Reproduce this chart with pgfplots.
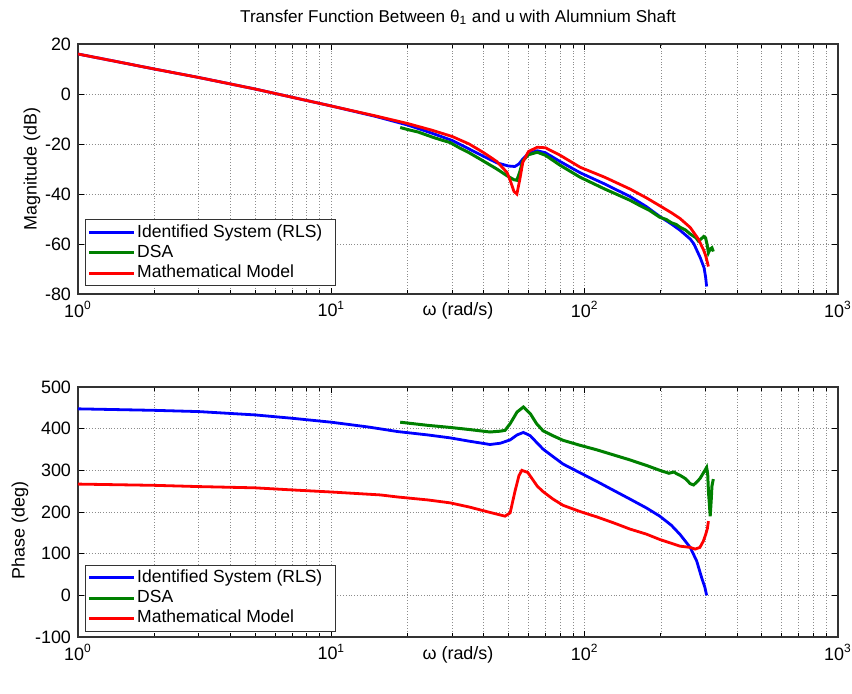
\documentclass[border=0pt]{standalone}
\usepackage{fontspec}
\setmainfont{Liberation Sans}
\usepackage{pgfplots}
\pgfplotsset{compat=1.18}
\definecolor{mblue}{RGB}{0,0,255}
\definecolor{mgreen}{RGB}{0,128,0}
\definecolor{mred}{RGB}{255,0,0}
\pgfplotsset{
  legend image code/.code={\path (0bp,0bp) -- (22.5bp,0bp); \draw[#1] (3bp,0bp) -- (19.5bp,0bp);},
}
\pgfplotstableread{
w m
1 16
1.5 12.5
2 10
3 6.6
5 2
7 -1.3
10 -4.8
15 -9
20 -12.4
25 -15.7
30 -18.6
35 -22
40 -25
45 -27.5
50 -28.8
53 -29
55 -28
57 -26
60 -23.8
65 -22.7
70 -23.5
80 -27
96 -31.5
120 -36
151 -41
175 -45
198 -49
220 -52
238 -54.5
261 -58
270 -60
286 -65.5
296 -69.5
300 -73
303 -77
}\magblue
\pgfplotstableread{
w m
1 16
1.5 12.5
2 10
3 6.6
5 2
7 -1.3
10 -4.8
15 -8.8
20 -11.8
25 -14.5
30 -17
35 -20
40 -23.5
45 -27
49.4 -31.4
51 -35
52.6 -39
54 -40
55.5 -34
57 -27.3
60 -23
65 -21.3
70 -21.5
80 -24.5
96 -29.3
120 -33.3
151 -38
175 -41.5
198 -44.7
220 -47.5
238 -49.8
261 -53.4
281 -58
295 -62.5
300 -64.5
308 -69
}\magred
\pgfplotstableread{
w m
18.7 -13.4
20 -14.2
22 -15.2
25 -17.2
27 -18.3
29.4 -19.4
32 -21.5
35 -23.5
38.6 -26
42 -28.2
45 -30
49.4 -32.7
52.6 -34.3
54 -34.5
55.5 -31
57 -26.7
60 -24.3
65 -23.3
70 -24.5
80 -28.5
96 -33.3
120 -38
151 -42.5
165 -44.6
180 -46.5
198 -49.3
210 -50.2
220 -51.5
230 -52.2
238 -53.3
250 -54.4
261 -56
275 -57.5
281 -58.8
288 -58
295 -57
300 -57.5
304 -60
308 -63.5
313 -62
318 -61.5
322 -63
}\maggreen
\pgfplotstableread{
w p
1 447.6
2 444
3 441
5 433
7 425
10 415.5
14 404
18.3 393
24 385
29.4 378
35 370
42.3 362
46.4 365
50.8 373
54.1 385
57.3 391
61 383
64.6 367
68.5 351
75 333
82.2 315
96 294
112 273
130 252
151 231
175 210
198 190
220 168
238 146
261 115
277 82
290 41
298 20
303 0
}\phblue
\pgfplotstableread{
w p
18.7 415.5
24 408
29.4 403
35 398
42.3 392
46.4 394
48.5 396
50.8 412
54.1 440
57.3 452
61 436
64.6 412
68.5 395
75 383
82.2 372
96 360
112 349
130 337
151 325
175 312
198 300
210 295
215 293
225 296
232 291
238 288
250 280
261 268
269 265
275 270
285 280
295 295
303 307
306 290
308 250
311 215
313 190
316 230
318 262
322 279
}\phgreen
\pgfplotstableread{
w p
1 267
2 264
3 261
5 258
7 253
10 248
15.6 241
18.3 236
24 229
29.4 222
35 212
42.3 199
48.5 190
50.8 198
53.1 250
55 287
56.5 300
59.6 295
62 280
65 262
68.5 249
75 231
82.2 216
96 201
112 188
130 174
151 159
175 147
198 134
238 118
261 115
273 111
285 115
294 130
300 145
305 160
308 178
}\phred
\begin{document}
\begin{tikzpicture}
\useasboundingbox (-39bp,22bp) rectangle (387bp,-325bp);
\begin{axis}[at={(0,0)}, anchor=north west,
  xmode=log, xmin=1, xmax=1000, scale only axis, width=380bp, height=125bp,
  xtick={1,10,100,1000},
  xticklabels={10\textsuperscript{0},10\textsuperscript{1},10\textsuperscript{2},10\textsuperscript{3}},
  grid=both,
  major grid style={densely dotted, black!45, line width=0.4bp},
  minor grid style={densely dotted, black!45, line width=0.4bp},
  tick align=inside, major tick length=3bp, minor tick length=1.8bp,
  tick style={black, line width=0.5bp},
  axis line style={black!80, line width=0.6bp},
  tick label style={font=\fontsize{9}{10}\selectfont},
  label style={font=\fontsize{9}{10}\selectfont},
  title style={font=\fontsize{8.6}{10}\selectfont, at={(axis description cs:0.5,1)}, anchor=base, yshift=5bp},
  xlabel style={at={(axis description cs:0.5,0)}, anchor=north, inner sep=0pt, yshift=-4bp},
  legend style={at={(axis description cs:0,0)}, anchor=south west, xshift=3.3bp, yshift=3.8bp,
    font=\fontsize{8.8}{10}\selectfont, draw=black!80, line width=0.5bp, inner sep=1.2bp,
    row sep=0pt,
    nodes={inner sep=0.85bp, text height=6.5bp, text depth=2bp}},
  legend cell align=left,
  ymin=-80, ymax=20, ytick={-80,-60,-40,-20,0,20},
  yticklabels={-80,-60,-40,-20,0,20},
  ylabel={Magnitude (dB)}, xlabel={ω (rad/s)},
  ylabel style={at={(axis description cs:-0.0605,0.5)}, anchor=center},
  title={Transfer Function Between θ\textsubscript{1} and u with Alumnium Shaft}]
\addplot[mblue, line width=1.4bp] table[x=w,y=m] {\magblue};
\addplot[mgreen, line width=1.5bp] table[x=w,y=m] {\maggreen};
\addplot[mred, line width=1.4bp] table[x=w,y=m] {\magred};
\legend{Identified System (RLS)\hspace*{4.3bp},DSA,Mathematical Model}
\end{axis}
\begin{axis}[at={(0,-171.5bp)}, anchor=north west,
  xmode=log, xmin=1, xmax=1000, scale only axis, width=380bp, height=125bp,
  xtick={1,10,100,1000},
  xticklabels={10\textsuperscript{0},10\textsuperscript{1},10\textsuperscript{2},10\textsuperscript{3}},
  grid=both,
  major grid style={densely dotted, black!45, line width=0.4bp},
  minor grid style={densely dotted, black!45, line width=0.4bp},
  tick align=inside, major tick length=3bp, minor tick length=1.8bp,
  tick style={black, line width=0.5bp},
  axis line style={black!80, line width=0.6bp},
  tick label style={font=\fontsize{9}{10}\selectfont},
  label style={font=\fontsize{9}{10}\selectfont},
  xlabel style={at={(axis description cs:0.5,0)}, anchor=north, inner sep=0pt, yshift=-4.5bp},
  legend style={at={(axis description cs:0,0)}, anchor=south west, xshift=3.3bp, yshift=2.7bp,
    font=\fontsize{8.8}{10}\selectfont, draw=black!80, line width=0.5bp, inner sep=1.2bp,
    row sep=0pt,
    nodes={inner sep=0.85bp, text height=6.5bp, text depth=2bp}},
  legend cell align=left,
  ymin=-100, ymax=500, ytick={-100,0,100,200,300,400,500},
  yticklabels={-100,0,100,200,300,400,500},
  ylabel={Phase (deg)}, xlabel={ω (rad/s)},
  ylabel style={at={(axis description cs:-0.0763,0.426)}, anchor=center}]
\addplot[mblue, line width=1.4bp] table[x=w,y=p] {\phblue};
\addplot[mgreen, line width=1.5bp] table[x=w,y=p] {\phgreen};
\addplot[mred, line width=1.4bp] table[x=w,y=p] {\phred};
\legend{Identified System (RLS)\hspace*{4.3bp},DSA,Mathematical Model}
\end{axis}
\end{tikzpicture}
\end{document}
